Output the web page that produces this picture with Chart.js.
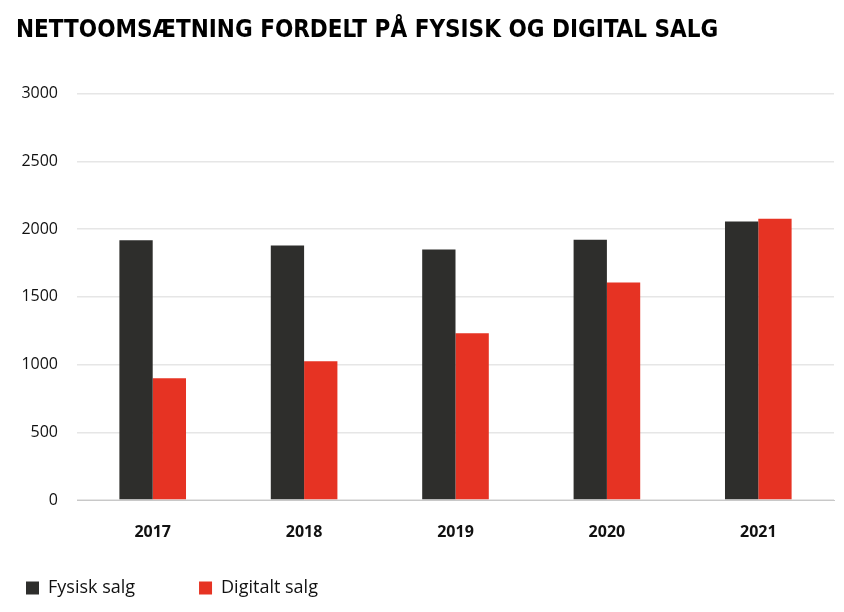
<!DOCTYPE html>
<html>
<head>
<meta charset="utf-8">
<script src="https://cdn.jsdelivr.net/npm/chart.js@4.4.0/dist/chart.umd.min.js"></script>
<style>
  body { margin: 0; background: #ffffff; }
  #wrap { width: 844px; height: 612px; position: relative; }
</style>
</head>
<body>
<div id="wrap"><canvas id="chart"></canvas></div>
<script>
// Data
const years = ["2017", "2018", "2019", "2020", "2021"];
const fysiskSalg = [1918, 1880, 1850, 1922, 2056];
const digitaltSalg = [900, 1025, 1232, 1606, 2078];
const yTicks = [0, 500, 1000, 1500, 2000, 2500, 3000];

const tickFont = "'Open Sans', 'Inter', sans-serif";

const ctx = document.getElementById("chart");

let myChart = new Chart(ctx, {
  type: "bar",
  data: {
    labels: years,
    datasets: [
      { label: "Fysisk salg", data: fysiskSalg, backgroundColor: "#2e2e2c" },
      { label: "Digitalt salg", data: digitaltSalg, backgroundColor: "#e63323" }
    ]
  },
  options: {
    responsive: true,
    maintainAspectRatio: false,
    animation: false,
    layout: { padding: { left: 16, right: 10, top: 10, bottom: 5 } },
    datasets: {
      bar: { categoryPercentage: 0.44, barPercentage: 1.0 }
    },
    scales: {
      x: {
        grid: { display: false },
        border: { color: "#c8c8c8", width: 1 },
        afterFit: (scale) => { scale.height = 69; },
        ticks: {
          color: "#111111",
          padding: 15,
          font: { family: tickFont, size: 16, weight: "bold" }
        }
      },
      y: {
        min: 0,
        max: 3000,
        afterBuildTicks: (axis) => { axis.ticks = yTicks.map(v => ({ value: v })); },
        afterFit: (scale) => { scale.width = 61; },
        grid: { color: "#e6e6e6", lineWidth: 1.5, drawTicks: false },
        border: { display: false },
        ticks: {
          color: "#111111",
          padding: 19,
          callback: (v) => String(v),
          font: { family: tickFont, size: 16 }
        }
      }
    },
    plugins: {
      tooltip: { enabled: false },
      title: {
        display: true,
        text: "NETTOOMSÆTNING FORDELT PÅ FYSISK OG DIGITAL SALG",
        align: "start",
        color: "#000000",
        font: { family: "'DejaVu Sans Condensed', 'DejaVu Sans', sans-serif", size: 24, weight: "bold" },
        padding: { top: 6, bottom: 49 }
      },
      legend: {
        position: "bottom",
        align: "start",
        labels: {
          boxWidth: 13,
          boxHeight: 13,
          padding: 10,
          color: "#111111",
          font: { family: tickFont, size: 18 },
          generateLabels: (chart) => {
            const items = Chart.defaults.plugins.legend.labels.generateLabels(chart);
            // widen the gap between the two entries
            items.forEach((it, i) => { if (i < items.length - 1) it.text += "\u2003\u2003\u2003"; });
            return items;
          }
        }
      }
    }
  }
});
</script>
</body>
</html>
